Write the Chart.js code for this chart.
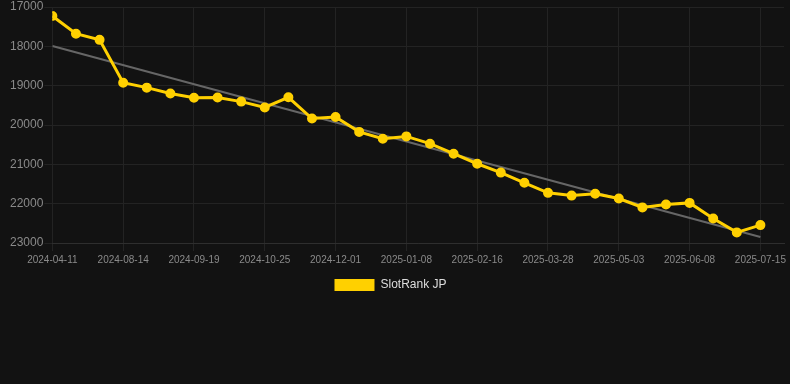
<!DOCTYPE html>
<html>
<head>
<meta charset="utf-8">
<script src="https://cdn.jsdelivr.net/npm/chart.js@4/dist/chart.umd.min.js"></script>
<style>
  html, body { margin: 0; padding: 0; background: #121212; }
  #wrap { width: 790px; height: 384px; position: relative; }
</style>
</head>
<body>
<div id="wrap"><canvas id="c"></canvas></div>
<script>
const tickLabels = ["2024-04-11","2024-08-14","2024-09-19","2024-10-25","2024-12-01","2025-01-08","2025-02-16","2025-03-28","2025-05-03","2025-06-08","2025-07-15"];
const ranks = [17230,17680,17835,18925,19050,19200,19305,19300,19405,19555,19295,19835,19795,20175,20350,20290,20475,20730,20985,21210,21470,21725,21795,21750,21870,22095,22020,21980,22375,22730,22545];
const seriesName = "SlotRank JP";
const yTicks = [17000,18000,19000,20000,21000,22000,23000];
const labelEvery = 3;

const pts = ranks.map((v, i) => ({ x: i, y: v }));
// least squares trend
const n = ranks.length;
const mx = (n - 1) / 2;
const my = ranks.reduce((a, b) => a + b, 0) / n;
let sxy = 0, sxx = 0;
ranks.forEach((v, i) => { sxy += (i - mx) * (v - my); sxx += (i - mx) * (i - mx); });
const slope = sxy / sxx, icpt = my - slope * mx;
const trend = [{ x: 0, y: icpt }, { x: n - 1, y: icpt + slope * (n - 1) }];

const legendShift = {
  id: 'legendShift',
  afterLayout(chart) { chart.legend.left -= 9; chart.legend.right -= 9; }
};

new Chart(document.getElementById('c'), {
  type: 'line',
  plugins: [legendShift],
  data: {
    datasets: [
      {
        label: seriesName,
        data: pts,
        borderColor: '#FFD000',
        backgroundColor: '#FFD000',
        borderWidth: 3,
        pointRadius: 4,
        pointBorderWidth: 2,
        pointBackgroundColor: '#FFD000',
        pointBorderColor: '#FFD000',
        tension: 0,
        order: 1
      },
      {
        label: 'trend',
        data: trend,
        borderColor: '#666666',
        borderWidth: 2,
        pointRadius: 0,
        fill: false,
        order: 2
      }
    ]
  },
  options: {
    responsive: true,
    maintainAspectRatio: false,
    animation: false,
    layout: { padding: { left: 9, top: 0, right: 0, bottom: 83 } },
    plugins: {
      tooltip: { enabled: false },
      legend: {
        position: 'bottom',
        labels: {
          color: '#dddddd',
          font: { family: 'Liberation Sans, Arial, sans-serif', size: 12 },
          boxWidth: 40,
          boxHeight: 12,
          generateLabels: chart => Chart.defaults.plugins.legend.labels.generateLabels(chart)
            .filter(it => it.text === seriesName)
            .map(it => Object.assign(it, { lineWidth: 0, strokeStyle: 'rgba(0,0,0,0)' }))
        }
      }
    },
    scales: {
      x: {
        type: 'linear',
        min: 0,
        max: n,
        afterBuildTicks: s => { s.ticks = tickLabels.map((_, k) => ({ value: k * labelEvery })); },
        ticks: {
          color: '#8a8a8a',
          font: { family: 'Liberation Sans, Arial, sans-serif', size: 10 },
          maxRotation: 0,
          autoSkip: false,
          callback: v => tickLabels[v / labelEvery]
        },
        grid: { color: '#232323', tickColor: '#232323' },
        border: { color: '#2e2e2e' }
      },
      y: {
        reverse: true,
        min: 17000,
        max: 23000,
        afterBuildTicks: s => { s.ticks = yTicks.map(v => ({ value: v })); },
        ticks: {
          color: '#8a8a8a',
          padding: 1,
          font: { family: 'Liberation Sans, Arial, sans-serif', size: 12, lineHeight: 1 },
          callback: v => String(v)
        },
        grid: { color: '#232323', tickColor: '#232323' },
        border: { display: false }
      }
    }
  }
});
</script>
</body>
</html>
